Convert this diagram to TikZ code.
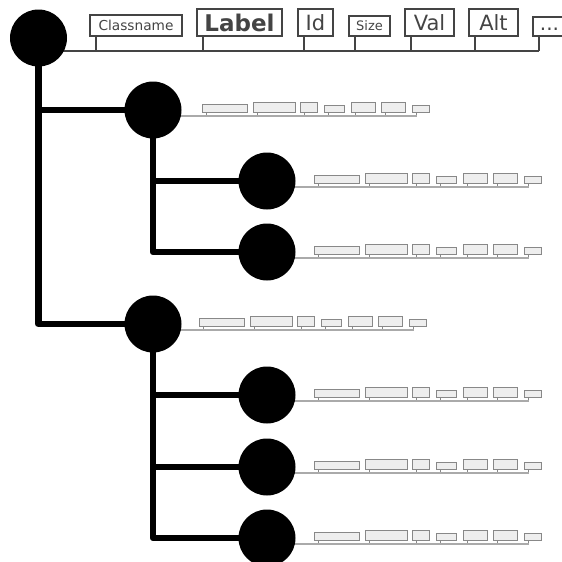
\documentclass[tikz,border=0pt]{standalone}
\usepackage{fontspec}
\setmainfont{DejaVu Sans}
\usetikzlibrary{backgrounds}
\definecolor{dk}{HTML}{444444}
\definecolor{lg}{HTML}{EEEEEE}
\definecolor{md}{HTML}{888888}
\definecolor{ln}{HTML}{AAAAAA}
\tikzset{
  dot/.style={circle,fill=black,minimum size=57pt,inner sep=0pt},
  spine/.style={line width=6.5pt,line join=round,draw=black},
  hbox/.style={draw=dk,line width=2pt,text=dk,inner sep=0pt,anchor=south west},
  hbar/.style={draw=dk,line width=2pt},
  sbox/.style={draw=md,fill=lg,line width=0.9pt,inner sep=0pt,anchor=south west},
  sbar/.style={draw=ln,line width=1.6pt},
  sstem/.style={draw=md,line width=1.1pt},
}
% #1 circle name, #2 start offset
\newcommand\srow[2]{%
  \foreach \pa/\pb/\hh [count=\i] in {0/45/8, 51/93/10, 98/115/10, 122/142/7, 149/173/10, 179/203/10, 210/227/7}{%
    \node[sbox,minimum width={\pb-\pa},minimum height=\hh] (#1b\i) at ([xshift={(#2+\pa)*1pt},yshift=-2.5pt]#1.center) {};
    \coordinate (#1s\i) at ([xshift={(#2+\pa+4.5)*1pt},yshift=-6pt]#1.center);
    \draw[sstem] ([xshift=4.5pt]#1b\i.south west) -- (#1s\i);
  }
  \draw[sbar] ([yshift=-6pt]#1.center) -- (#1s7);
}
\begin{document}
\begin{tikzpicture}[x=1pt,y=-1pt]
\useasboundingbox (0,0) rectangle (562,562);
\node[dot] (r) at (38.5,38) {};
\node[dot] (c1) at (153,110) {};
\node[dot] (c2) at (153,324) {};
\node[dot] (g1) at (267,181) {};
\node[dot] (g2) at (267,252) {};
\node[dot] (g3) at (267,395) {};
\node[dot] (g4) at (267,467) {};
\node[dot] (g5) at (267,538) {};
% header row
\node[hbox,minimum width=92pt,minimum height=21pt,font=\fontsize{13.7}{13.7}\selectfont] (hc) at (89,37) {Classname};
\node[hbox,minimum width=85pt,minimum height=27pt,font=\fontsize{23}{23}\selectfont\bfseries] (hl) at (196,37) {Label};
\node[hbox,minimum width=35pt,minimum height=27pt,font=\fontsize{21}{21}\selectfont] (hi) at (297,37) {Id};
\node[hbox,minimum width=41pt,minimum height=20pt,font=\fontsize{13}{13}\selectfont] (hs) at (348,37) {Size};
\node[hbox,minimum width=49pt,minimum height=27pt,font=\fontsize{21}{21}\selectfont] (hv) at (404,37) {Val};
\node[hbox,minimum width=49pt,minimum height=27pt,font=\fontsize{21}{21}\selectfont] (ha) at (468,37) {Alt};
\node[hbox,minimum width=33pt,minimum height=19pt,text height=7pt,text depth=0pt,font=\fontsize{20}{20}\selectfont] (hd) at (532,37) {...};
\coordinate (bar) at (0,51);
\begin{scope}[on background layer]
  \draw[spine] (r.center) |- (c1.center);
  \draw[spine] (r.center) |- (c2.center);
  \draw[spine] (c1.center) |- (g1.center);
  \draw[spine] (c1.center) |- (g2.center);
  \draw[spine] (c2.center) |- (g3.center);
  \draw[spine] (c2.center) |- (g4.center);
  \draw[spine] (c2.center) |- (g5.center);
  \foreach \b in {hc,hl,hi,hs,hv,ha,hd}{
    \draw[hbar] ([xshift=7pt]\b.south west) -- ([xshift=7pt]\b.south west |- bar);
  }
  \draw[hbar] (r.center |- bar) -- ([xshift=7pt]hd.south west |- bar);
  \srow{c1}{49}
  \srow{c2}{46}
  \srow{g1}{47}
  \srow{g2}{47}
  \srow{g3}{47}
  \srow{g4}{47}
  \srow{g5}{47}
\end{scope}
\end{tikzpicture}
\end{document}
